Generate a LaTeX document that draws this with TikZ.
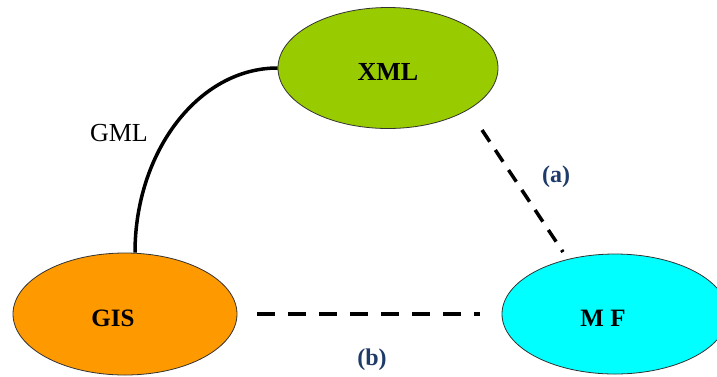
\documentclass[tikz,border=0pt]{standalone}
\usepackage{fontspec}
\setmainfont{Liberation Serif}
\usetikzlibrary{shapes.geometric}
\definecolor{xmlgreen}{HTML}{99CC00}
\definecolor{gisorange}{HTML}{FF9900}
\definecolor{mfcyan}{HTML}{00FFFF}
\definecolor{labelblue}{HTML}{1F3B6A}
\begin{document}
\begin{tikzpicture}[x=1pt,y=-1pt,
  blob/.style={ellipse, draw=black!80, line width=0.8pt, minimum width=224pt,
    minimum height=122pt, inner sep=0pt, text height=25pt, text depth=0pt,
    font=\fontsize{25}{30}\selectfont\bfseries},
  dashb/.style={line width=3.5pt, dash pattern=on 18pt off 13pt},
  dasha/.style={line width=3.5pt, dash pattern=on 14pt off 10pt},
  lbl/.style={font=\fontsize{24}{28}\selectfont\bfseries, text=labelblue},
  link/.style={line width=3.5pt}]
\useasboundingbox (0,0) rectangle (717,376);
\clip (0,0) rectangle (717,376);
\node[blob, fill=xmlgreen, minimum width=220pt, minimum height=121pt,
  font=\fontsize{26}{30}\selectfont\bfseries] (xml) at (388,68) {XML};
\node[blob, fill=gisorange] (gis) at (125,314) {\hspace*{-24pt}GIS};
\node[blob, fill=mfcyan, minimum width=226pt, minimum height=120pt] (mf) at (615,314) {\hspace*{-24pt}M F};
\draw[link] (xml.west) .. controls +(-79,0) and +(0,-101) .. ([xshift=10pt]gis.north);
\coordinate (a1) at (482,130);
\coordinate (a2) at (563,252);
\draw[dasha] (a1) -- (a2);
\draw[dashb, shorten <=20pt, shorten >=22pt] (gis.east) -- (mf.west);
\node[font=\fontsize{26}{30}\selectfont] (gml) at (119,133) {GML};
\node[lbl] (la) at (556,177) {(a)};
\node[lbl] (lb) at (372,360) {(b)};
\end{tikzpicture}
\end{document}
